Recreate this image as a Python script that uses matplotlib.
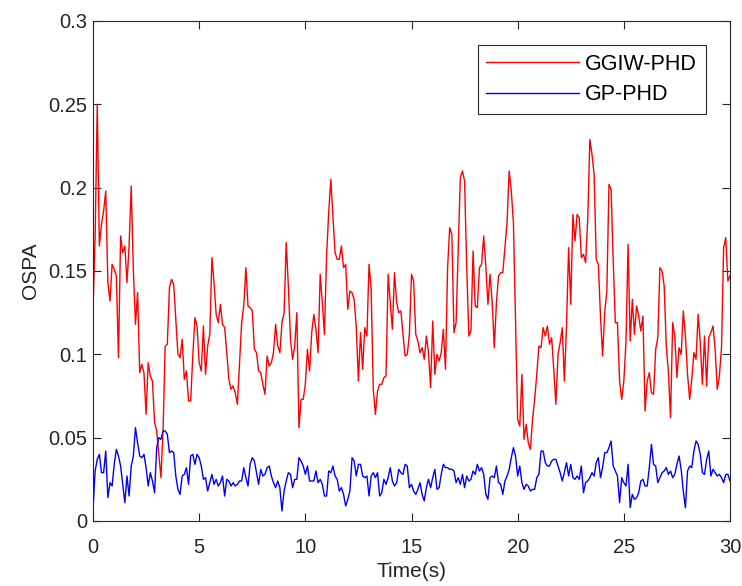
import numpy as np
import matplotlib
matplotlib.use("Agg")
import matplotlib.pyplot as plt
from matplotlib.ticker import FixedLocator, FixedFormatter

plt.rcParams['font.family'] = ['Liberation Sans', 'DejaVu Sans']

time = np.round(np.arange(301) * 0.1, 1)

ggiw_phd = [
    0.127, 0.170, 0.250, 0.165, 0.178, 0.186, 0.198, 0.143, 0.132, 0.154,
    0.151, 0.147, 0.098, 0.171, 0.161, 0.165, 0.143, 0.165, 0.201, 0.151,
    0.118, 0.137, 0.089, 0.094, 0.089, 0.064, 0.095, 0.087, 0.084, 0.059,
    0.054, 0.040, 0.026, 0.055, 0.105, 0.106, 0.140, 0.145, 0.142, 0.121,
    0.100, 0.098, 0.109, 0.085, 0.090, 0.072, 0.072, 0.099, 0.122, 0.117,
    0.095, 0.090, 0.117, 0.088, 0.105, 0.112, 0.158, 0.143, 0.124, 0.119,
    0.130, 0.118, 0.116, 0.101, 0.085, 0.079, 0.081, 0.077, 0.070, 0.095,
    0.119, 0.129, 0.152, 0.129, 0.128, 0.126, 0.103, 0.101, 0.090, 0.089,
    0.082, 0.076, 0.099, 0.093, 0.095, 0.101, 0.118, 0.105, 0.101, 0.119,
    0.125, 0.167, 0.141, 0.109, 0.097, 0.105, 0.125, 0.056, 0.073, 0.073,
    0.082, 0.103, 0.090, 0.113, 0.124, 0.115, 0.101, 0.148, 0.131, 0.112,
    0.159, 0.185, 0.205, 0.183, 0.161, 0.157, 0.157, 0.165, 0.152, 0.154,
    0.127, 0.138, 0.137, 0.133, 0.116, 0.084, 0.113, 0.091, 0.116, 0.111,
    0.154, 0.139, 0.079, 0.064, 0.078, 0.082, 0.082, 0.086, 0.087, 0.148,
    0.131, 0.115, 0.149, 0.131, 0.125, 0.126, 0.112, 0.099, 0.100, 0.112,
    0.148, 0.144, 0.112, 0.108, 0.101, 0.104, 0.097, 0.111, 0.101, 0.080,
    0.120, 0.088, 0.100, 0.096, 0.101, 0.115, 0.091, 0.152, 0.176, 0.172,
    0.113, 0.119, 0.163, 0.206, 0.210, 0.204, 0.153, 0.111, 0.114, 0.162,
    0.129, 0.128, 0.152, 0.154, 0.171, 0.153, 0.130, 0.148, 0.131, 0.104,
    0.131, 0.147, 0.149, 0.149, 0.164, 0.179, 0.210, 0.198, 0.179, 0.119,
    0.061, 0.057, 0.088, 0.049, 0.058, 0.047, 0.043, 0.061, 0.073, 0.088,
    0.105, 0.104, 0.116, 0.111, 0.117, 0.106, 0.110, 0.091, 0.070, 0.100,
    0.107, 0.116, 0.084, 0.117, 0.164, 0.130, 0.184, 0.168, 0.184, 0.182,
    0.158, 0.160, 0.155, 0.181, 0.229, 0.220, 0.208, 0.157, 0.154, 0.123,
    0.099, 0.125, 0.138, 0.202, 0.199, 0.156, 0.119, 0.119, 0.084, 0.073,
    0.084, 0.107, 0.166, 0.108, 0.133, 0.112, 0.129, 0.123, 0.114, 0.123,
    0.066, 0.084, 0.089, 0.077, 0.076, 0.103, 0.110, 0.152, 0.150, 0.141,
    0.105, 0.089, 0.062, 0.119, 0.111, 0.086, 0.104, 0.100, 0.126, 0.111,
    0.088, 0.073, 0.085, 0.101, 0.097, 0.124, 0.107, 0.082, 0.111, 0.081,
    0.110, 0.113, 0.117, 0.103, 0.079, 0.087, 0.104, 0.164, 0.170, 0.144,
    0.147,
]

gp_phd = [
    0.007, 0.030, 0.037, 0.040, 0.029, 0.029, 0.042, 0.014, 0.023, 0.021,
    0.034, 0.043, 0.039, 0.033, 0.022, 0.011, 0.027, 0.015, 0.033, 0.039,
    0.056, 0.047, 0.039, 0.038, 0.040, 0.032, 0.021, 0.029, 0.024, 0.017,
    0.044, 0.050, 0.049, 0.054, 0.054, 0.052, 0.041, 0.042, 0.041, 0.027,
    0.019, 0.016, 0.027, 0.028, 0.032, 0.022, 0.039, 0.040, 0.034, 0.040,
    0.038, 0.033, 0.025, 0.026, 0.018, 0.023, 0.028, 0.022, 0.025, 0.021,
    0.023, 0.027, 0.015, 0.025, 0.024, 0.021, 0.023, 0.021, 0.022, 0.024,
    0.024, 0.032, 0.026, 0.021, 0.034, 0.038, 0.036, 0.029, 0.022, 0.031,
    0.027, 0.028, 0.032, 0.033, 0.027, 0.023, 0.020, 0.024, 0.020, 0.006,
    0.018, 0.024, 0.029, 0.028, 0.020, 0.025, 0.025, 0.038, 0.036, 0.033,
    0.028, 0.033, 0.024, 0.024, 0.024, 0.030, 0.023, 0.025, 0.022, 0.015,
    0.015, 0.030, 0.029, 0.033, 0.027, 0.025, 0.018, 0.020, 0.016, 0.009,
    0.013, 0.018, 0.038, 0.036, 0.027, 0.034, 0.034, 0.027, 0.026, 0.027,
    0.015, 0.027, 0.029, 0.026, 0.029, 0.015, 0.017, 0.025, 0.022, 0.026,
    0.032, 0.024, 0.021, 0.023, 0.031, 0.029, 0.028, 0.034, 0.033, 0.020,
    0.022, 0.018, 0.016, 0.019, 0.023, 0.016, 0.012, 0.020, 0.025, 0.020,
    0.026, 0.031, 0.019, 0.020, 0.028, 0.034, 0.032, 0.032, 0.031, 0.031,
    0.030, 0.023, 0.026, 0.022, 0.028, 0.020, 0.027, 0.024, 0.025, 0.030,
    0.028, 0.034, 0.030, 0.032, 0.028, 0.016, 0.013, 0.026, 0.027, 0.026,
    0.033, 0.023, 0.022, 0.016, 0.024, 0.027, 0.031, 0.038, 0.044, 0.039,
    0.027, 0.033, 0.023, 0.019, 0.022, 0.021, 0.018, 0.019, 0.019, 0.026,
    0.028, 0.042, 0.042, 0.035, 0.033, 0.033, 0.036, 0.037, 0.037, 0.033,
    0.029, 0.024, 0.029, 0.035, 0.027, 0.034, 0.026, 0.025, 0.027, 0.025,
    0.033, 0.017, 0.023, 0.024, 0.026, 0.029, 0.027, 0.035, 0.038, 0.026,
    0.032, 0.041, 0.041, 0.044, 0.048, 0.033, 0.030, 0.027, 0.011, 0.026,
    0.023, 0.021, 0.034, 0.008, 0.016, 0.013, 0.014, 0.017, 0.024, 0.025,
    0.021, 0.021, 0.032, 0.046, 0.034, 0.033, 0.023, 0.026, 0.029, 0.030,
    0.032, 0.028, 0.030, 0.026, 0.028, 0.034, 0.039, 0.031, 0.018, 0.008,
    0.030, 0.033, 0.032, 0.042, 0.048, 0.046, 0.040, 0.029, 0.028, 0.037,
    0.042, 0.027, 0.031, 0.029, 0.027, 0.028, 0.026, 0.023, 0.028, 0.028,
    0.024,
]

series_labels = ["GGIW-PHD", "GP-PHD"]
x_ticks = [0, 5, 10, 15, 20, 25, 30]
y_ticks = [0, 0.05, 0.1, 0.15, 0.2, 0.25, 0.3]
y_tick_labels = ["0", "0.05", "0.1", "0.15", "0.2", "0.25", "0.3"]

fig = plt.figure(figsize=(7.42, 5.86), dpi=100)
ax = fig.add_axes([93/742, 65/586, 637/742, 500/586])

ax.plot(time, ggiw_phd, color='#ff0000', lw=1.0, label=series_labels[0])
ax.plot(time, gp_phd, color='#0000ff', lw=1.0, label=series_labels[1])

ax.set_xlim(0, 30)
ax.set_ylim(0, 0.3)
ax.xaxis.set_major_locator(FixedLocator(x_ticks))
ax.yaxis.set_major_locator(FixedLocator(y_ticks))
ax.yaxis.set_major_formatter(FixedFormatter(y_tick_labels))

axc = '#262626'
for s in ax.spines.values():
    s.set_color(axc)
    s.set_linewidth(0.8)
ax.tick_params(direction='in', top=True, right=True, length=6, width=0.8,
               color=axc, labelcolor=axc, labelsize=14.5, pad=4)
ax.tick_params(axis='x', pad=12)
ax.set_xlabel("Time(s)", fontsize=15, color=axc, labelpad=4)
ax.set_ylabel("OSPA", fontsize=15, color=axc, labelpad=6)

leg = ax.legend(loc='upper right', fontsize=15.5, frameon=True, fancybox=False,
                edgecolor=axc, framealpha=1, borderpad=0.4, handlelength=4.3,
                handletextpad=0.3, labelspacing=0.45,
                bbox_to_anchor=(0.962, 0.952), borderaxespad=0)
leg.get_frame().set_linewidth(0.8)

fig.savefig("out.png", dpi=100)
